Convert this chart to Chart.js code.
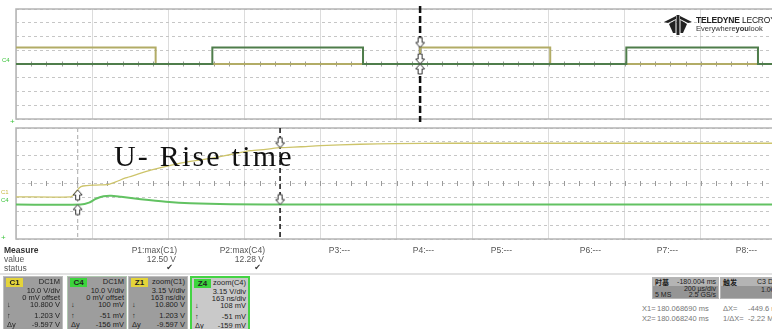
<!DOCTYPE html>
<html>
<head>
<meta charset="utf-8">
<script src="https://cdn.jsdelivr.net/npm/chart.js@4.4.0/dist/chart.umd.min.js"></script>
<style>
body { margin:0; width:772px; height:329px; overflow:hidden; background:#fff; position:relative; font-family:"Liberation Sans", Arial, sans-serif; }
.abs { position:absolute; white-space:nowrap; }
#topWrap { position:absolute; left:10px; top:3px; width:773px; height:122px; }
#zoomWrap { position:absolute; left:10px; top:122px; width:773px; height:123px; }
.meas { font-size:8.5px; line-height:9px; color:#555; }
.chan { position:absolute; top:276px; width:60px; height:58px; background:#9d9d9d; border:1px solid #bdbdbd; box-sizing:border-box; font-size:7.5px; line-height:8px; color:#1e1e1e; }
.chan .tag { position:absolute; left:2px; top:1px; width:17px; height:9px; font-weight:bold; font-size:8px; line-height:9px; text-align:center; color:#222; }
.chan .r { position:absolute; right:2px; }
.chan .l { position:absolute; left:3px; }
.tb { position:absolute; top:277px; height:22px; background:#959595; border:1px solid #b5b5b5; box-sizing:border-box; font-size:7px; line-height:7px; color:#1e1e1e; }
.tb .hd { position:absolute; left:0; right:0; top:0; height:8px; background:#b4b4b4; }
</style>
</head>
<body>
<div id="topWrap"><canvas id="topChart" width="773" height="122"></canvas></div>
<div id="zoomWrap"><canvas id="zoomChart" width="773" height="123"></canvas></div>
<div id="overlay"></div>
<script>
// upper panel (C1 / C4), x in divisions, y in divisions
const topC1X = [0, 1.835, 5.31, 7.02, 10];
const topC1Y = [1.2, 0, 1.2, 0, 0];
const topC4X = [0, 2.58, 4.56, 8.02, 9.75, 10];
const topC4Y = [0, 1.2, 0, 1.2, 0, 0];

// lower panel (zoom of C1 / C4)
const zoomC1X = [0, 0.72, 0.77, 0.83, 0.88, 1.05, 1.22, 1.31, 1.44, 1.60, 1.77, 2.03, 2.29, 2.56, 2.82, 3.08, 3.28, 3.47, 3.74, 4.0, 4.52, 4.99, 5.70, 10];
const zoomC1Y = [-0.96, -0.96, -0.74, -0.32, -0.18, -0.11, -0.06, 0.11, 0.4, 0.67, 0.96, 1.31, 1.59, 1.81, 2.09, 2.37, 2.46, 2.58, 2.65, 2.73, 2.83, 2.87, 2.9, 2.9];
const zoomC4X = [0, 0.85, 0.96, 1.05, 1.15, 1.25, 1.38, 1.64, 1.97, 2.29, 2.82, 3.74, 10];
const zoomC4Y = [-1.52, -1.52, -1.38, -1.1, -0.92, -0.88, -0.96, -1.13, -1.31, -1.42, -1.49, -1.52, -1.52];

// cursors and their markers
const topCursor = [5.31];
const topMarkX = [5.31, 5.31, 5.31];
const topMarkY = [1.2, 0, 0];
const zoomCursors = [0.81, 3.47];
const zoomMarkX = [0.81, 0.81, 3.47, 3.47];
const zoomMarkY = [-0.46, -1.52, 2.58, -1.52];

// measure table
const measureLabels = ['P1:max(C1)', 'P2:max(C4)', 'P3:---', 'P4:---', 'P5:---', 'P6:---', 'P7:---', 'P8:---'];
const measureValues = ['12.50 V', '12.28 V', '', '', '', '', '', ''];
const measureStatus = ['\u2714', '\u2714', '', '', '', '', '', ''];

// channel descriptors
const chanTags = ['C1', 'C4', 'Z1', 'Z4'];
const chanHead = ['DC1M', 'DC1M', 'zoom(C1)', 'zoom(C4)'];
const chanScale = ['10.0 V/div', '10.0 V/div', '3.15 V/div', '3.15 V/div'];
const chanSecond = ['0 mV offset', '0 mV offset', '163 ns/div', '163 ns/div'];
const chanTop = ['10.800 V', '100 mV', '10.800 V', '108 mV'];
const chanBase = ['1.203 V', '-51 mV', '1.203 V', '-51 mV'];
const chanDelta = ['-9.597 V', '-156 mV', '-9.597 V', '-159 mV'];

function pts(xs, ys) {
    return xs.map((x, i) => ({x: x, y: ys[i]}));
}

function arrowImg(dir) {
    const c = document.createElement('canvas');
    c.width = 11; c.height = 24;
    const g = c.getContext('2d');
    g.beginPath();
    if (dir === 'up') {
        g.moveTo(5.5, 12); g.lineTo(10, 17); g.lineTo(7.5, 17); g.lineTo(7.5, 22);
        g.lineTo(3.5, 22); g.lineTo(3.5, 17); g.lineTo(1, 17);
    } else {
        g.moveTo(5.5, 12); g.lineTo(10, 7); g.lineTo(7.5, 7); g.lineTo(7.5, 2);
        g.lineTo(3.5, 2); g.lineTo(3.5, 7); g.lineTo(1, 7);
    }
    g.closePath();
    g.fillStyle = '#fff';
    g.fill();
    g.strokeStyle = '#333';
    g.lineWidth = 1;
    g.stroke();
    return c;
}
const upArrow = arrowImg('up');
const downArrow = arrowImg('down');

const scopeDecor = {
    id: 'scopeDecor',
    beforeDatasetsDraw(chart, args, opts) {
        const ctx = chart.ctx;
        const a = chart.chartArea;
        const xs = chart.scales.x, ys = chart.scales.y;
        ctx.save();
        // frame
        ctx.strokeStyle = '#b4b4b4';
        ctx.lineWidth = 1.5;
        ctx.strokeRect(a.left, a.top, a.right - a.left, a.bottom - a.top);
        // centre line ticks
        ctx.strokeStyle = '#9a9a9a';
        ctx.lineWidth = 1;
        const y0 = ys.getPixelForValue(0);
        for (let v = 0.2; v < 10; v += 0.2) {
            const px = Math.round(xs.getPixelForValue(v)) + 0.5;
            ctx.beginPath();
            ctx.moveTo(px, y0 - 2.5);
            ctx.lineTo(px, y0 + 2.5);
            ctx.stroke();
        }
        // cursors
        (opts.cursors || []).forEach(c => {
            const px = xs.getPixelForValue(c.x);
            ctx.strokeStyle = c.color;
            ctx.lineWidth = c.width;
            ctx.setLineDash(c.dash);
            ctx.beginPath();
            ctx.moveTo(px, a.top - (c.ext || 0));
            ctx.lineTo(px, a.bottom + (c.ext || 0));
            ctx.stroke();
        });
        ctx.restore();
    }
};

function scopeChart(id, datasets, cursors) {
    return new Chart(document.getElementById(id), {
        type: 'line',
        data: { datasets: datasets },
        options: {
            responsive: false,
            animation: false,
            events: [],
            layout: { padding: 5 },
            plugins: {
                legend: { display: false },
                tooltip: { enabled: false },
                scopeDecor: { cursors: cursors }
            },
            scales: {
                x: {
                    type: 'linear', min: 0, max: 10,
                    ticks: { display: false, stepSize: 1 },
                    grid: { color: '#dcdcdc', drawTicks: false },
                    border: { display: false }
                },
                y: {
                    type: 'linear', min: -4, max: 4,
                    ticks: { display: false, stepSize: 1 },
                    grid: { color: '#c6c6c6', drawTicks: false, borderDash: [3, 3] },
                    border: { display: false, dash: [3, 3] }
                }
            }
        },
        plugins: [scopeDecor]
    });
}

scopeChart('topChart', [
    {
        data: pts(topMarkX, topMarkY), showLine: false, pointRadius: 5,
        pointStyle: [downArrow, downArrow, upArrow]
    },
    {
        data: pts(topC4X, topC4Y), stepped: true, borderColor: '#4f7d4b',
        borderWidth: 2, pointRadius: 0
    },
    {
        data: pts(topC1X, topC1Y), stepped: true, borderColor: '#b2ac66',
        borderWidth: 2, pointRadius: 0
    }
], topCursor.map(x => ({ x: x, color: '#111', width: 2.5, dash: [7, 3], ext: 3 })));

scopeChart('zoomChart', [
    {
        data: pts(zoomMarkX, zoomMarkY), showLine: false, pointRadius: 5,
        pointStyle: [upArrow, upArrow, downArrow, downArrow]
    },
    {
        data: pts(zoomC4X, zoomC4Y), borderColor: '#62c262', tension: 0.25,
        borderWidth: 2, pointRadius: 0
    },
    {
        data: pts(zoomC1X, zoomC1Y), borderColor: '#cdc46a', tension: 0.25,
        borderWidth: 1.3, pointRadius: 0
    }
], [
    { x: zoomCursors[0], color: '#b8b8b8', width: 1.2, dash: [4, 3] },
    { x: zoomCursors[1], color: '#111', width: 1.5, dash: [5, 3] }
]);

// ---- text / panels around the plot ----
let html = '';
function put(left, top, text, style) {
    html += '<div class="abs" style="left:' + left + 'px;top:' + top + 'px;' + (style || '') + '">' + text + '</div>';
}

// annotation
put(114, 140, 'U- Rise time', 'font-family:\'Liberation Serif\',serif;font-size:30px;line-height:32px;letter-spacing:2.2px;color:#111;');

// trace labels at left edge
put(2, 57, 'C4', 'font-size:6px;line-height:6px;color:#3cc43c;');
put(1, 189, 'C1', 'font-size:6px;line-height:6px;color:#c8b840;');
put(1, 197, 'C4', 'font-size:6px;line-height:6px;color:#3cc43c;');
put(10, 118, '+', 'font-size:8px;line-height:8px;color:#3cc43c;');
put(1, 234, '+', 'font-size:8px;line-height:8px;color:#3cc43c;');

// logo
html += '<svg class="abs" style="left:664px;top:15px" width="28" height="21" viewBox="0 0 28 21">' +
    '<polygon points="0,7 12,1 12,4 4,8" fill="#222"/>' +
    '<polygon points="28,7 16,1 16,4 24,8" fill="#222"/>' +
    '<polygon points="12.5,0 15.5,0 15.5,20 12.5,20" fill="#222"/>' +
    '<polygon points="5,9 11.5,5 11.5,18 9,18" fill="#222"/>' +
    '<polygon points="23,9 16.5,5 16.5,18 19,18" fill="#222"/></svg>';
put(696, 16, '<b>TELEDYNE</b> LECROY', 'font-size:8.5px;line-height:9px;color:#222;letter-spacing:-0.2px;');
put(696, 25, 'Everywhere<b>you</b>look', 'font-size:7.5px;line-height:8px;color:#333;');

// measure table
put(4, 246, '<b>Measure</b>', 'font-size:8.5px;line-height:9px;color:#333;');
put(4, 255, 'value', 'font-size:8.5px;line-height:9px;color:#555;');
put(4, 264, 'status', 'font-size:8.5px;line-height:9px;color:#555;');
const measRight = [177, 265, 350, 434, 512, 601, 678, 757];
measureLabels.forEach((t, i) => {
    const r = measRight[i];
    html += '<div class="abs meas" style="right:' + (772 - r) + 'px;top:246px;">' + t + '</div>';
    html += '<div class="abs meas" style="right:' + (772 - r + 1) + 'px;top:255px;">' + measureValues[i] + '</div>';
    html += '<div class="abs meas" style="right:' + (772 - r + 4) + 'px;top:263px;color:#333;font-family:\'DejaVu Sans\';font-size:8px;">' + measureStatus[i] + '</div>';
});
html += '<div class="abs" style="left:0;top:273px;width:772px;height:2px;background:#e2e2e2;"></div>';

// channel boxes
const chanLeft = [3, 67, 128, 190];
const tagColor = ['#e4d43a', '#3cd43c', '#e4d43a', '#3cd43c'];
chanTags.forEach((t, i) => {
    let st = 'left:' + chanLeft[i] + 'px;';
    if (i === 3) st += 'background:#c9c9c9;border:2px solid #44d444;';
    if (i === 1) st += 'border-color:#b0c8b0;';
    html += '<div class="chan" style="' + st + '">' +
        '<div class="tag" style="background:' + tagColor[i] + ';">' + t + '</div>' +
        '<div class="r" style="top:1px;">' + chanHead[i] + '</div>' +
        '<div class="r" style="top:10px;">' + chanScale[i] + '</div>' +
        '<div class="r" style="top:17px;">' + chanSecond[i] + '</div>' +
        '<div class="r" style="top:24px;">' + chanTop[i] + '</div>' +
        '<div class="r" style="top:35px;">' + chanBase[i] + '</div>' +
        '<div class="r" style="top:44px;">' + chanDelta[i] + '</div>' +
        '<div class="l" style="top:24px;">&#8595;</div>' +
        '<div class="l" style="top:35px;">&#8593;</div>' +
        '<div class="l" style="top:44px;">&Delta;y</div>' +
        '</div>';
});

// timebase / trigger boxes
html += '<div class="tb" style="left:652px;width:67px;"><div class="hd"></div>' +
    '<div class="abs" style="left:2px;top:0;font-weight:bold;font-family:\'Noto Sans CJK SC\';line-height:8px;">时基</div>' +
    '<div class="abs" style="right:2px;top:0;line-height:8px;">-180.004 ms</div>' +
    '<div class="abs" style="right:2px;top:7px;">200 µs/div</div>' +
    '<div class="abs" style="left:2px;top:13px;">5 MS</div>' +
    '<div class="abs" style="right:2px;top:13px;">2.5 GS/s</div></div>';
html += '<div class="tb" style="left:720px;width:60px;"><div class="hd"></div>' +
    '<div class="abs" style="left:2px;top:0;font-weight:bold;font-family:\'Noto Sans CJK SC\';line-height:8px;">触发</div>' +
    '<div class="abs" style="left:36px;top:0;line-height:8px;">C3 DC</div>' +
    '<div class="abs" style="left:40px;top:8px;">1.00 V</div></div>';
put(642, 305, 'X1=', 'font-size:7.5px;line-height:8px;color:#777;');
put(657, 305, '180.068690 ms', 'font-size:7.5px;line-height:8px;color:#777;');
put(723, 305, '&Delta;X=', 'font-size:7.5px;line-height:8px;color:#777;');
put(748, 305, '-449.6 ns', 'font-size:7.5px;line-height:8px;color:#777;');
put(642, 315, 'X2=', 'font-size:7.5px;line-height:8px;color:#777;');
put(657, 315, '180.068240 ms', 'font-size:7.5px;line-height:8px;color:#777;');
put(723, 315, '1/&Delta;X=', 'font-size:7.5px;line-height:8px;color:#777;');
put(748, 315, '-2.22 MHz', 'font-size:7.5px;line-height:8px;color:#777;');

document.getElementById('overlay').innerHTML = html;
</script>
</body>
</html>
